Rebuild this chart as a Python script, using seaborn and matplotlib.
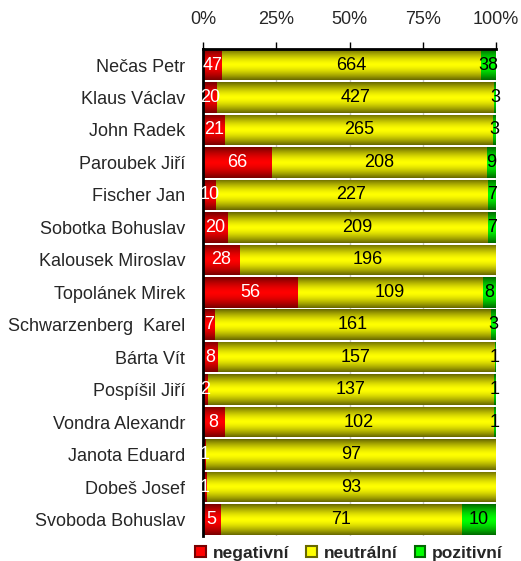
import numpy as np
import pandas as pd
import matplotlib
matplotlib.use('Agg')
import matplotlib.pyplot as plt
import seaborn as sns
from matplotlib.patches import Patch
from matplotlib.colors import LinearSegmentedColormap

# Data
names = ['Nečas Petr', 'Klaus Václav', 'John Radek', 'Paroubek Jiří', 'Fischer Jan',
         'Sobotka Bohuslav', 'Kalousek Miroslav', 'Topolánek Mirek', 'Schwarzenberg  Karel',
         'Bárta Vít', 'Pospíšil Jiří', 'Vondra Alexandr', 'Janota Eduard', 'Dobeš Josef',
         'Svoboda Bohuslav']
negativni = [47, 20, 21, 66, 10, 20, 28, 56, 7, 8, 2, 8, 1, 1, 5]
neutralni = [664, 427, 265, 208, 227, 209, 196, 109, 161, 157, 137, 102, 97, 93, 71]
pozitivni = [38, 3, 3, 9, 7, 7, 0, 8, 3, 1, 1, 1, 0, 0, 10]
series = ['negativní', 'neutrální', 'pozitivní']

df = pd.DataFrame({'name': names, 'neg': negativni, 'neu': neutralni, 'poz': pozitivni})
total = df[['neg', 'neu', 'poz']].sum(axis=1)
df['neg_pct'] = df['neg'] / total * 100
df['neu_pct'] = df['neu'] / total * 100
df['poz_pct'] = df['poz'] / total * 100
df['c1'] = df['neg_pct']
df['c2'] = df['neg_pct'] + df['neu_pct']
df['c3'] = df['c2'] + df['poz_pct']

# (dark edge, bright centre) for Excel-like gradient bars
shades = {'poz': ('#006800', '#00ff00'),
          'neu': ('#686800', '#ffff00'),
          'neg': ('#780000', '#ff0000')}

sns.set_theme(style='white')
plt.rcParams['font.family'] = ['Liberation Sans', 'DejaVu Sans']

fig = plt.figure(figsize=(5.21, 5.61), dpi=100)
ax = fig.add_axes([0.39, 0.045, 0.562, 0.868])

bar_w = 0.94
order = [('c3', 'poz'), ('c2', 'neu'), ('c1', 'neg')]
groups = []
for col, key in order:
    n_before = len(ax.patches)
    sns.barplot(data=df, x=col, y='name', orient='h', color=shades[key][1],
                width=bar_w, ax=ax, linewidth=0, saturation=1)
    groups.append((key, ax.patches[n_before:]))

# gradient fill clipped to each bar
grad = np.abs(np.linspace(-1, 1, 64))[:, None] ** 1.5
for key, patches in groups:
    cmap = LinearSegmentedColormap.from_list(key, [shades[key][1], shades[key][0]])
    for p in patches:
        x0, y0 = p.get_x(), p.get_y()
        w, h = p.get_width(), p.get_height()
        if w <= 0:
            continue
        im = ax.imshow(grad, cmap=cmap, aspect='auto', interpolation='bilinear',
                       extent=[x0, x0 + w, y0 + h, y0], zorder=p.get_zorder())
        im.set_clip_path(p)

ax.set_xlim(0, 100)
ax.set_ylim(len(names) - 0.5, -0.5)
ax.set_xlabel('')
ax.set_ylabel('')

# value labels
fs = 13
for i, row in df.iterrows():
    ax.text(row['neg_pct'] / 2, i, str(row['neg']), ha='center', va='center',
            color='white', fontsize=fs)
    ax.text(row['c1'] + row['neu_pct'] / 2, i, str(row['neu']), ha='center', va='center',
            color='black', fontsize=fs)
    if row['poz'] > 0:
        ax.text(row['c2'] + row['poz_pct'] / 2, i, str(row['poz']), ha='center',
                va='center', color='black', fontsize=fs)

# axes styling
ax.xaxis.tick_top()
ax.set_xticks([0, 25, 50, 75, 100])
ax.set_xticklabels(['0%', '25%', '50%', '75%', '100%'], fontsize=13)
ax.tick_params(axis='x', direction='out', length=5, width=1, color='black', pad=10)
ax.set_yticks(range(len(names)))
ax.set_yticklabels(names, fontsize=13)
ax.set_yticks(np.arange(-0.5, len(names), 1), minor=True)
ax.tick_params(axis='y', which='major', length=0, pad=13)
ax.tick_params(axis='y', which='minor', direction='out', length=5, width=1, color='black')
ax.grid(axis='x', color='#c8c8c8', linewidth=1)
ax.set_axisbelow(True)
for side in ['right', 'bottom']:
    ax.spines[side].set_visible(False)
for side in ['top', 'left']:
    ax.spines[side].set_color('black')
    ax.spines[side].set_linewidth(2)

handles = [Patch(facecolor=shades[k][1], edgecolor=shades[k][0], linewidth=1.5)
           for k in ['neg', 'neu', 'poz']]
leg = fig.legend(handles, series, loc='lower center', bbox_to_anchor=(0.67, -0.028),
                 ncol=3, frameon=False, handlelength=0.6, handleheight=0.6,
                 handletextpad=0.4, columnspacing=1.0,
                 prop={'weight': 'bold', 'size': 12.5})

fig.savefig('out.png', dpi=100)
